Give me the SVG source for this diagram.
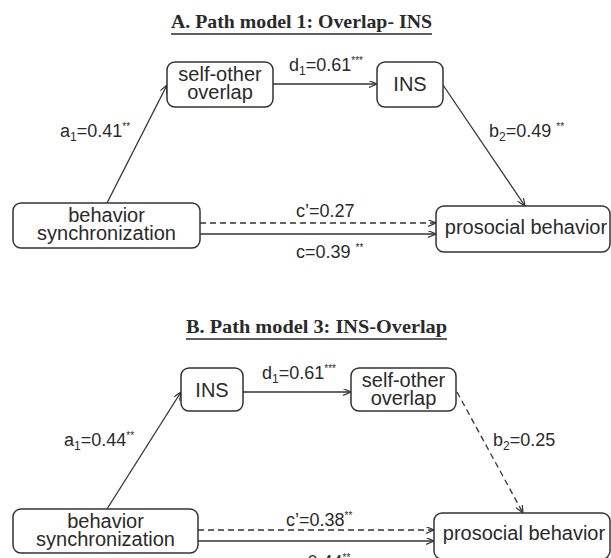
<svg xmlns="http://www.w3.org/2000/svg" width="611" height="558" viewBox="0 0 611 558">
<style>
.bg{fill:#ffffff}
.box{fill:#ffffff;stroke:#333333;stroke-width:1.5}
.node{font-family:"Liberation Sans",Arial,sans-serif;font-size:20px;fill:#2a2a2a;text-anchor:middle}
.lbl{font-family:"Liberation Sans",Arial,sans-serif;font-size:18px;fill:#2a2a2a}
.sub{font-size:12px}
.sup{font-size:10px}
.title{font-family:"Liberation Serif","Times New Roman",serif;font-size:19px;font-weight:bold;fill:#2a2a2a}
.ul{stroke:#2a2a2a;stroke-width:1.5}
.edge{fill:none;stroke:#333333;stroke-width:1.3;marker-end:url(#arr)}
.dash{stroke-dasharray:6 4}
</style>
<defs>
<marker id="arr" markerUnits="userSpaceOnUse" markerWidth="10" markerHeight="9" refX="8" refY="3.5" orient="auto">
<path d="M0,0 L8,3.5 L0,7" fill="none" stroke="#333333" stroke-width="1.2"/>
</marker>
</defs>
<rect class="bg" x="0" y="0" width="611" height="558"/>

<g id="titleA">
<text class="title" x="171" y="28" textLength="261" lengthAdjust="spacingAndGlyphs">A. Path model 1: Overlap- INS</text>
<line class="ul" x1="171" y1="34" x2="432" y2="34"/>
</g>
<g id="titleB">
<text class="title" x="186" y="333" textLength="261" lengthAdjust="spacingAndGlyphs">B. Path model 3: INS-Overlap</text>
<line class="ul" x1="186" y1="339" x2="447" y2="339"/>
</g>

<g id="connectors">
<line class="edge" x1="273" y1="84" x2="377" y2="84"/>
<line class="edge" x1="107" y1="203" x2="167" y2="85"/>
<line class="edge" x1="443" y1="85" x2="525" y2="206"/>
<line class="edge dash" x1="200" y1="223" x2="436" y2="223"/>
<line class="edge" x1="200" y1="234" x2="436" y2="234"/>
<line class="edge" x1="243" y1="392" x2="351" y2="392"/>
<line class="edge" x1="107" y1="509" x2="181" y2="392"/>
<line class="edge dash" x1="457" y1="392" x2="523" y2="513"/>
<line class="edge dash" x1="198" y1="530" x2="434" y2="530"/>
<line class="edge" x1="198" y1="541" x2="434" y2="541"/>
</g>

<g id="labels">
<text class="lbl" x="289" y="71">d<tspan class="sub" dy="4">1</tspan><tspan dy="-4">=0.61</tspan><tspan class="sup" dy="-7">***</tspan></text>
<text class="lbl" x="60" y="137">a<tspan class="sub" dy="4">1</tspan><tspan dy="-4">=0.41</tspan><tspan class="sup" dy="-7">**</tspan></text>
<text class="lbl" x="489" y="137">b<tspan class="sub" dy="4">2</tspan><tspan dy="-4">=0.49 </tspan><tspan class="sup" dy="-7">**</tspan></text>
<text class="lbl" x="296" y="217">c’=0.27</text>
<text class="lbl" x="296" y="258">c=0.39 <tspan class="sup" dy="-7">**</tspan></text>
<text class="lbl" x="262" y="379">d<tspan class="sub" dy="4">1</tspan><tspan dy="-4">=0.61</tspan><tspan class="sup" dy="-7">***</tspan></text>
<text class="lbl" x="64" y="446">a<tspan class="sub" dy="4">1</tspan><tspan dy="-4">=0.44</tspan><tspan class="sup" dy="-7">**</tspan></text>
<text class="lbl" x="493" y="446">b<tspan class="sub" dy="4">2</tspan><tspan dy="-4">=0.25</tspan></text>
<text class="lbl" x="286" y="526">c’=0.38<tspan class="sup" dy="-7">**</tspan></text>
<text class="lbl" x="288" y="568">c=0.44<tspan class="sup" dy="-7">**</tspan></text>
</g>

<g id="nodeA-overlap">
<rect class="box" x="167" y="62" width="106" height="45" rx="8"/>
<text class="node" x="220" y="81">self-other</text>
<text class="node" x="220" y="99">overlap</text>
</g>
<g id="nodeA-ins">
<rect class="box" x="377" y="62" width="66" height="45" rx="8"/>
<text class="node" x="410" y="91">INS</text>
</g>
<g id="nodeA-sync">
<rect class="box" x="13" y="203" width="187" height="45" rx="8"/>
<text class="node" x="106.5" y="222">behavior</text>
<text class="node" x="106.5" y="240">synchronization</text>
</g>
<g id="nodeA-prosocial">
<rect class="box" x="436" y="206" width="174" height="46" rx="8"/>
<text class="node" x="526" y="234">prosocial behavior</text>
</g>

<g id="nodeB-ins">
<rect class="box" x="181" y="368" width="62" height="43" rx="8"/>
<text class="node" x="212" y="397">INS</text>
</g>
<g id="nodeB-overlap">
<rect class="box" x="351" y="368" width="105" height="43" rx="8"/>
<text class="node" x="403.5" y="387">self-other</text>
<text class="node" x="403.5" y="405">overlap</text>
</g>
<g id="nodeB-sync">
<rect class="box" x="13" y="509" width="185" height="44" rx="8"/>
<text class="node" x="105.5" y="528">behavior</text>
<text class="node" x="105.5" y="546">synchronization</text>
</g>
<g id="nodeB-prosocial">
<rect class="box" x="434" y="513" width="176" height="46" rx="8"/>
<text class="node" x="524" y="540">prosocial behavior</text>
</g>
</svg>
